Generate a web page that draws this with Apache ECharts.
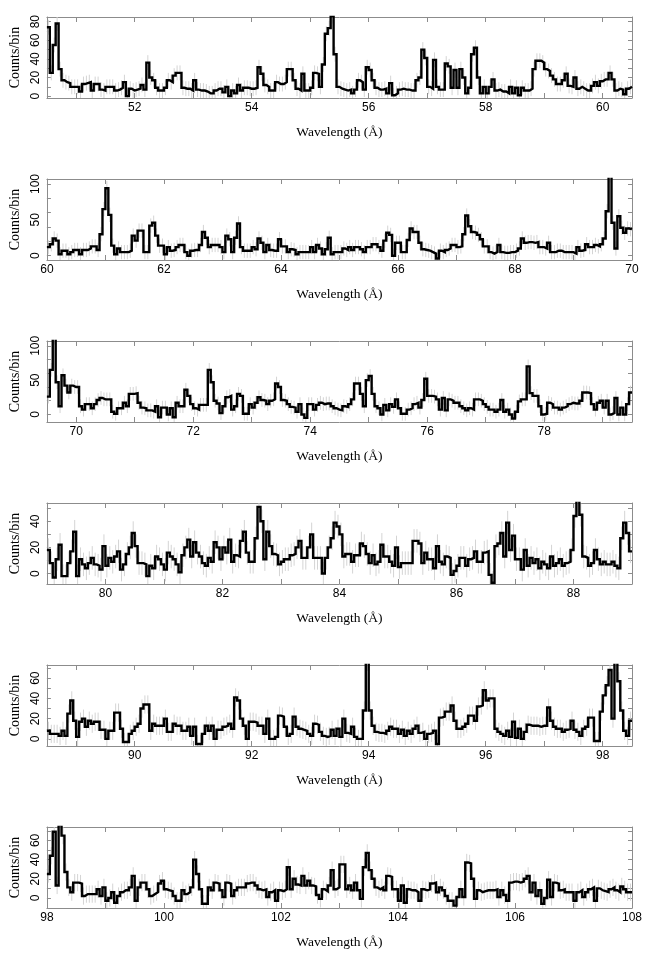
<!DOCTYPE html>
<html><head><meta charset="utf-8">
<script src="https://cdn.jsdelivr.net/npm/echarts@6/dist/echarts.min.js"></script>
<style>html,body{margin:0;padding:0;background:#fff}#c{width:652px;height:959px}</style>
</head><body><div id="c"></div>
<script>
const binWidth = 0.05;
const panelStart = [50.5, 60, 69.5, 79, 88.5, 98];
const panelEnd = [60.5, 70, 79.5, 89, 98.5, 108];
const yMin = [-2, -6, -11, -8, -7, -10.5];
const yMax = [85, 107, 107, 54, 73, 74];
const yLabels = [[0,20,40,60,80],[0,50,100],[0,50,100],[0,20,40],[0,20,40,60],[0,20,40,60]];
const yTickVals = [[0,10,20,30,40,50,60,70,80],[0,20,40,60,80,100],[0,20,40,60,80,100],[0,10,20,30,40,50],[0,10,20,30,40,50,60,70],[0,10,20,30,40,50,60,70]];
const xLabels = [[52,54,56,58,60],[60,62,64,66,68,70],[70,72,74,76,78],[80,82,84,86,88],[90,92,94,96,98],[98,100,102,104,106,108]];
const xTickVals = [[51,52,53,54,55,56,57,58,59,60],[61,62,63,64,65,66,67,68,69],[70,71,72,73,74,75,76,77,78,79],[80,81,82,83,84,85,86,87,88],[89,90,91,92,93,94,95,96,97,98],[99,100,101,102,103,104,105,106,107]];
const errHalf = [8, 10, 10, 9, 9, 9];

const counts1 = [74,25,55,78,29,17,15,14,10,10, 10,5,13,14,15,6,13,13,7,6, 10,10,10,6,7,9,15,0,8,6, 7,8,12,7,36,20,17,9,6,6,
 9,17,15,22,25,25,9,8,8,6, 17,7,6,6,5,3,3,6,8,8, 4,10,0,6,3,12,6,9,9,8, 8,9,31,24,12,10,6,6,15,13,
 13,15,29,29,17,8,6,24,6,6, 9,25,24,10,34,67,73,86,45,10, 8,7,6,7,3,7,17,15,7,31, 28,17,9,7,7,8,3,14,1,3,
 7,8,7,7,6,6,17,20,50,41, 10,8,39,10,7,7,35,32,9,28, 9,29,20,3,9,45,52,20,3,10, 3,10,18,6,7,5,5,3,10,3,
 9,1,9,6,6,8,29,38,38,36, 29,27,22,18,13,13,17,24,11,10, 20,8,10,8,6,6,11,15,11,16, 18,18,25,18,6,8,7,2,8,10];
const counts2 = [12,16,24,21,2,7,7,2,5,8, 8,2,8,8,10,13,13,8,30,65, 94,57,14,2,10,5,5,5,7,28, 21,35,35,5,5,42,46,28,14,14,
 2,12,7,8,12,15,15,5,0,7, 8,8,15,33,25,12,15,15,15,12, 5,28,23,5,25,45,12,7,7,7, 12,9,24,18,5,15,8,7,7,23,
 13,13,5,9,8,2,5,5,5,5, 12,5,15,10,2,9,25,2,5,5, 5,10,8,12,8,12,12,9,5,12, 12,16,16,12,7,21,32,29,0,18,
 18,5,5,22,38,33,33,18,9,8, 7,5,3,-4,7,5,8,10,15,15, 12,13,30,56,41,33,32,29,23,13, 13,5,3,5,15,5,4,4,5,5,
 7,10,24,18,19,19,18,19,12,12, 10,18,5,5,7,7,5,5,5,5, 3,12,7,8,16,12,12,15,13,16, 24,62,112,46,10,55,39,32,38,37];
const counts3 = [26,65,112,47,12,57,42,32,42,40, 40,12,7,15,15,9,15,21,24,22, 22,22,4,1,9,9,17,12,30,30, 31,17,10,9,6,6,4,12,-4,10,
 10,0,9,-4,17,12,12,36,27,15, 9,7,14,14,14,65,47,20,16,2, 12,25,27,7,12,30,27,1,1,15, 10,17,25,21,20,15,20,22,45,40,
 21,20,15,11,10,4,15,0,-5,15, 15,7,14,17,15,16,16,12,9,7, 6,12,11,15,22,45,45,30,12,50, 56,30,12,9,0,14,6,15,11,22,
 9,1,1,7,9,15,17,10,21,52, 27,27,26,22,7,24,6,22,20,17, 17,12,9,6,9,7,22,22,20,15, 11,7,7,4,7,21,4,7,0,-6,
 4,19,22,22,70,31,27,27,12,0, 1,17,15,10,10,7,10,12,15,17, 16,16,20,32,32,31,15,7,17,20, 10,20,0,2,24,0,10,0,15,32];
const counts4 = [18,8,-3,11,22,-2,-2,8,17,32, -2,11,7,4,8,12,7,6,3,21, 6,12,9,13,17,3,7,15,20,31, 21,8,8,7,-2,6,4,13,11,7,
 3,16,13,11,7,1,14,20,26,13, 24,16,13,8,6,12,9,24,20,11, 20,16,26,9,14,13,25,32,16,9, 9,27,51,40,11,32,21,15,14,7,
 9,11,11,14,15,20,25,12,12,20, 30,12,12,12,0,12,20,27,39,36, 30,13,15,15,9,14,14,23,21,15, 8,14,7,9,22,13,13,9,6,20,
 5,8,8,8,8,25,25,23,8,16, 11,11,4,21,9,7,13,12,-1,2, 6,12,12,6,11,12,17,9,9,16, 17,-1,-7,21,23,31,13,39,18,29,
 11,11,3,18,6,12,8,11,4,9, 7,4,13,6,8,11,6,8,9,18, 44,56,45,13,12,6,8,18,11,7, 9,7,7,9,6,4,27,39,31,17];
const counts5 = [8,5,5,5,3,8,3,25,38,18, 2,17,20,12,18,15,17,17,9,9, 0,8,8,26,26,10,-3,-3,5,8, 12,15,30,34,34,8,15,13,13,13,
 20,7,7,15,13,13,8,8,12,3, 12,-5,-5,5,13,8,13,0,9,9, 12,13,15,10,41,38,20,13,0,17, 17,16,13,13,5,20,0,0,2,23,
 22,12,3,5,22,12,10,9,8,5, 3,15,14,7,3,2,3,9,3,10, 2,20,6,5,12,2,0,0,28,76, 28,13,7,6,6,5,8,12,10,10,
 5,9,3,8,5,10,13,6,7,0, 5,6,8,-5,21,22,27,27,33,18, 10,10,12,15,23,23,18,32,33,48, 38,40,40,10,7,5,3,8,2,17,
 1,10,0,7,14,13,13,13,12,13, 13,31,18,12,10,10,7,9,10,18, 9,7,3,10,12,21,21,-2,-2,27, 43,53,68,20,76,57,28,8,3,18];
const counts6 = [25,44,69,13,76,65,27,11,6,16, 16,15,2,4,4,4,4,9,2,11, -3,0,6,-5,2,6,8,8,11,23, -3,11,16,16,9,2,4,6,15,18,
 9,8,7,2,-3,-3,8,4,6,11, 40,25,9,-6,-6,11,8,16,15,8, 1,16,15,2,8,11,11,11,15,16, 16,13,9,8,9,1,6,8,-3,8,
 7,9,32,9,20,14,13,23,13,18, 13,12,3,-1,9,7,13,29,9,11, 35,35,9,13,8,16,8,-1,32,47, 29,20,11,9,11,8,23,22,9,9,
 -3,13,-5,9,8,8,6,-3,9,8, 9,15,16,6,11,8,2,-3,-3,-8, 1,9,1,37,36,20,-1,8,6,7, 8,8,8,9,1,8,3,-3,16,17,
 17,16,17,20,23,6,16,2,8,-6, 0,19,1,16,15,8,9,6,6,6, -3,6,8,1,6,9,11,-3,10,8, 7,6,9,11,8,6,12,9,6,6];

const allCounts = [counts1, counts2, counts3, counts4, counts5, counts6];

const sans = 'Liberation Sans, Arial, sans-serif';
const serif = 'Liberation Serif, Times New Roman, serif';
const frameColor = '#8c8c8c';

const grids = [], xAxes = [], yAxes = [], series = [];
for (let k = 0; k < 6; k++) {
  grids.push({left: 46, right: 20, top: 17 + 162 * k, height: 81});
  const counts = allCounts[k];
  const start = panelStart[k];
  const stepData = counts.map((v, i) => [+(start + i * binWidth).toFixed(3), v]);
  stepData.push([panelEnd[k], counts[counts.length - 1]]);
  const errData = counts.map((v, i) => [+(start + (i + 0.5) * binWidth).toFixed(3), v, errHalf[k]]);
  const tickStyle = {color: frameColor, width: 1};
  xAxes.push({
    gridIndex: k, type: 'value', min: panelStart[k], max: panelEnd[k], position: 'bottom',
    axisLine: {show: true, onZero: false, lineStyle: {color: frameColor, width: 1}},
    axisTick: {show: true, inside: true, length: 5, customValues: xTickVals[k], lineStyle: tickStyle},
    axisLabel: {customValues: xLabels[k], margin: 4, fontFamily: sans, fontSize: 12, color: '#000'},
    splitLine: {show: false},
    name: 'Wavelength (Å)', nameLocation: 'middle', nameGap: 27,
    nameTextStyle: {fontFamily: serif, fontSize: 13.5, color: '#000'}
  });
  xAxes.push({
    gridIndex: k, type: 'value', min: panelStart[k], max: panelEnd[k], position: 'top',
    axisLine: {show: true, onZero: false, lineStyle: {color: frameColor, width: 1}},
    axisTick: {show: true, inside: true, length: 5, customValues: xTickVals[k], lineStyle: tickStyle},
    axisLabel: {show: false}, splitLine: {show: false}
  });
  yAxes.push({
    gridIndex: k, type: 'value', min: yMin[k], max: yMax[k], position: 'left',
    axisLine: {show: true, onZero: false, lineStyle: {color: frameColor, width: 1}},
    axisTick: {show: true, inside: true, length: 4, customValues: yTickVals[k], lineStyle: tickStyle},
    axisLabel: {customValues: yLabels[k], rotate: 90, margin: 5, fontFamily: sans, fontSize: 12, color: '#000'},
    splitLine: {show: false},
    name: 'Counts/bin', nameLocation: 'middle', nameGap: 24, nameRotate: 90,
    nameTextStyle: {fontFamily: serif, fontSize: 14, color: '#000'}
  });
  yAxes.push({
    gridIndex: k, type: 'value', min: yMin[k], max: yMax[k], position: 'right',
    axisLine: {show: true, onZero: false, lineStyle: {color: frameColor, width: 1}},
    axisTick: {show: true, inside: true, length: 4, customValues: yTickVals[k], lineStyle: tickStyle},
    axisLabel: {show: false}, splitLine: {show: false}
  });
  series.push({
    type: 'custom', xAxisIndex: 2 * k, yAxisIndex: 2 * k, data: errData, clip: true, z: 1,
    encode: {x: 0, y: 1},
    renderItem: function (params, api) {
      const x = api.value(0), y = api.value(1), e = api.value(2);
      const p1 = api.coord([x, y - e]);
      const p2 = api.coord([x, y + e]);
      return {type: 'line', shape: {x1: p1[0], y1: p1[1], x2: p2[0], y2: p2[1]},
        style: {stroke: '#d4d4d4', lineWidth: 1}};
    }
  });
  series.push({
    type: 'line', xAxisIndex: 2 * k, yAxisIndex: 2 * k, data: stepData, step: 'end',
    symbol: 'none', clip: true, z: 3,
    lineStyle: {color: '#000', width: 2.4, join: 'miter'}
  });
}

const chart = echarts.init(document.getElementById('c'), null, {renderer: 'canvas'});
chart.setOption({
  animation: false,
  backgroundColor: '#fff',
  grid: grids, xAxis: xAxes, yAxis: yAxes, series: series
});
</script>
</body></html>
